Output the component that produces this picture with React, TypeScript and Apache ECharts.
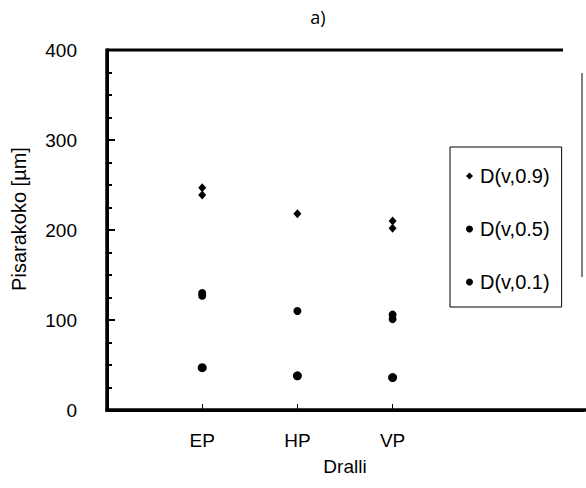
import React, { useEffect, useRef } from "react";
import * as echarts from "echarts";

// Drop-size percentiles per swirl type (two replicate readings where they differ)
const categories = ["EP", "HP", "VP"];
const seriesNames = ["D(v,0.9)", "D(v,0.5)", "D(v,0.1)"];
const d90Cat = ["EP", "EP", "HP", "VP", "VP"];
const d90Val = [247, 239, 218, 210, 202];
const d50Cat = ["EP", "EP", "HP", "VP", "VP"];
const d50Val = [130, 127, 110, 106, 101];
const d10Cat = ["EP", "HP", "VP"];
const d10Val = [47, 38, 36];
const yTicks = [0, 100, 200, 300, 400];

const toPoints = (cats: string[], vals: number[]) =>
  cats.map((c, i) => [categories.indexOf(c) + 1, vals[i]]);

export default function App() {
  const ref = useRef<HTMLDivElement>(null);

  useEffect(() => {
    document.body.style.margin = "0";
    if (!ref.current) return;
    const chart = echarts.init(ref.current, undefined, { renderer: "svg" });
    const font = "Liberation Sans, Arial, sans-serif";
    const black = "#000";

    chart.setOption({
      animation: false,
      backgroundColor: "#fff",
      textStyle: { fontFamily: font, color: black },
      grid: { left: 107, top: 50, right: 3, bottom: 78 },
      title: {
        text: "a)",
        left: 313,
        top: 3,
        textAlign: "center",
        textStyle: { fontFamily: "Open Sans, sans-serif", fontSize: 18, fontWeight: "normal", color: black },
      },
      legend: {
        orient: "vertical",
        left: 450,
        top: 147,
        padding: [19, 12, 15, 16],
        itemGap: 33,
        itemWidth: 7,
        itemHeight: 7,
        borderColor: black,
        borderWidth: 1,
        textStyle: { fontFamily: font, fontSize: 20, color: black, padding: [0, 0, 0, 2] },
        data: [
          { name: seriesNames[0], icon: "diamond" },
          { name: seriesNames[1], icon: "circle" },
          { name: seriesNames[2], icon: "circle" },
        ],
      },
      xAxis: {
        type: "value",
        min: 0,
        max: 5,
        interval: 1,
        name: "Dralli",
        nameLocation: "middle",
        nameGap: 47,
        nameTextStyle: { fontFamily: font, fontSize: 19, color: black },
        axisLine: { show: true, onZero: false, lineStyle: { color: black, width: 3 } },
        axisTick: { show: true, inside: true, length: 6, customValues: [1, 2, 3], lineStyle: { color: black, width: 1 } },
        axisLabel: {
          margin: 21,
          fontSize: 19,
          color: black,
          fontFamily: font,
          customValues: [1, 2, 3],
          formatter: (v: number) => categories[Math.round(v) - 1] ?? "",
        },
        splitLine: { show: false },
      },
      yAxis: {
        type: "value",
        min: 0,
        max: 400,
        interval: 100,
        name: "Pisarakoko [µm]",
        nameLocation: "middle",
        nameGap: 78,
        nameTextStyle: { fontFamily: font, fontSize: 20, color: black, padding: [0, 0, 0, 22] },
        axisLine: { show: true, onZero: false, lineStyle: { color: black, width: 3 } },
        axisTick: { show: true, inside: true, length: 8, lineStyle: { color: black, width: 2 } },
        minorTick: { show: true, splitNumber: 4, length: 5, lineStyle: { color: black, width: 2 } },
        axisLabel: {
          margin: 30,
          fontSize: 19,
          color: black,
          fontFamily: font,
          customValues: yTicks,
        },
        splitLine: { show: false },
      },
      // Heavy frame strokes of the plot box: left, bottom, top, and the short right edge
      graphic: [
        {
          type: "line",
          z: 10,
          shape: { x1: 107, y1: 48.5, x2: 107, y2: 411.5 },
          style: { stroke: black, lineWidth: 3.5 },
        },
        {
          type: "line",
          z: 10,
          shape: { x1: 105.5, y1: 410, x2: 586, y2: 410 },
          style: { stroke: black, lineWidth: 3.5 },
        },
        {
          type: "line",
          z: 10,
          shape: { x1: 107, y1: 50, x2: 563, y2: 50 },
          style: { stroke: black, lineWidth: 3 },
        },
        {
          type: "line",
          shape: { x1: 582, y1: 73, x2: 582, y2: 277 },
          style: { stroke: black, lineWidth: 1 },
        },
      ],
      series: [
        {
          name: seriesNames[0],
          type: "scatter",
          symbol: "diamond",
          symbolSize: [8, 9],
          itemStyle: { color: black, opacity: 1 },
          data: toPoints(d90Cat, d90Val),
        },
        {
          name: seriesNames[1],
          type: "scatter",
          symbol: "circle",
          symbolSize: 8,
          itemStyle: { color: black, opacity: 1 },
          data: toPoints(d50Cat, d50Val),
        },
        {
          name: seriesNames[2],
          type: "scatter",
          symbol: "circle",
          symbolSize: 9,
          itemStyle: { color: black, opacity: 1 },
          data: toPoints(d10Cat, d10Val),
        },
      ],
    });

    return () => chart.dispose();
  }, []);

  return <div ref={ref} style={{ width: 586, height: 488 }} />;
}
